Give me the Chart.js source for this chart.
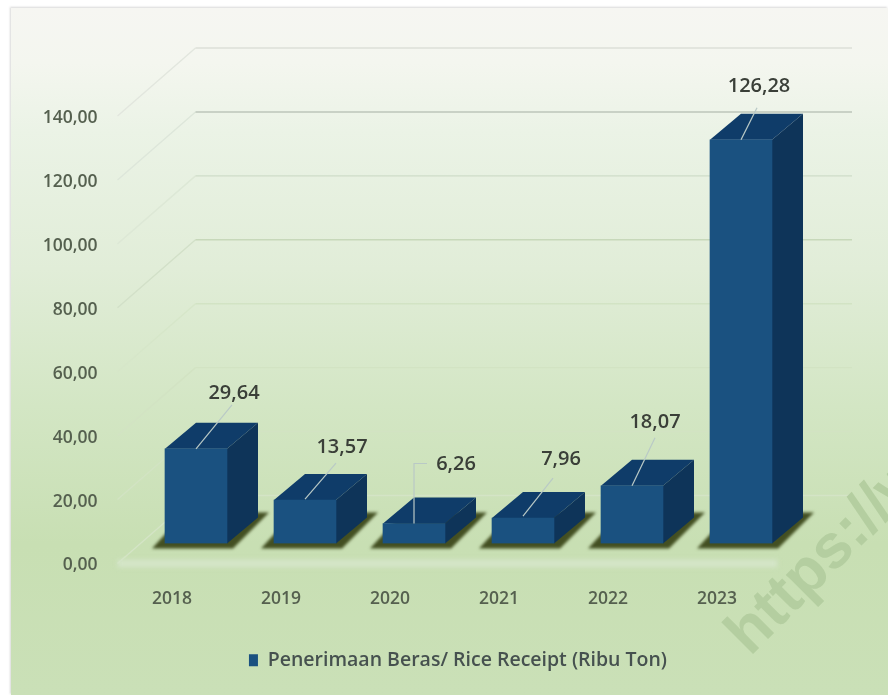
<!DOCTYPE html>
<html>
<head>
<meta charset="utf-8">
<style>
  html, body { margin: 0; padding: 0; background: #fff; }
  #panel {
    position: absolute; left: 11px; top: 8px; width: 877px; height: 687px;
    background: linear-gradient(to bottom, #f6f6f2 0%, #f4f6ef 8%, #ebf3e6 18%, #e1edd8 38%, #d3e6c4 58%, #c8dfb3 78%, #cae0b7 100%);
    box-shadow: -1px -1px 2px #d8d8d8;
  }
  #wrap { position: absolute; left: 0; top: 0; width: 888px; height: 695px; }
  canvas { filter: blur(0.7px); }
</style>
</head>
<body>
<div id="panel"></div>
<div id="wrap"><canvas id="riceChart" width="888" height="695"></canvas></div>
<script src="https://cdn.jsdelivr.net/npm/chart.js@4"></script>
<script>
const years = ['2018', '2019', '2020', '2021', '2022', '2023'];
const riceReceipt = [29.64, 13.57, 6.26, 7.96, 18.07, 126.28];
const seriesName = 'Penerimaan Beras/ Rice Receipt (Ribu Ton)';
const watermark = 'https://w';

// label centre and leader path, relative to the top centre of each bar
const labelOffsets = [[38, -55], [37, -53], [42, -59], [38, -59], [23, -63], [18, -54]];
const leaderPaths = [
    [[0, 0], [36, -44]],
    [[0, -1], [31, -37]],
    [[0, 0], [0, -60], [13, -60]],
    [[0, -2], [30, -40]],
    [[0, 0], [23, -48]],
    [[0, 0], [16, -32]]
];

// 3d look: bars sit this far from the axis origin, walls are further back
const barShift = { x: 24, y: -22 };
const depth = { x: 31, y: -26 };
const wallShift = { x: 78, y: -70 };
const wallRight = 852;
const gridColors = ['#d4e4c6', '#d2e3c3', '#d2e3c3', '#d2e3c4', '#c7d8ba', '#cfdcc8', '#bcc6ba', '#dcdfd8'];
const diagonalColors = ['#d4e4c6', '#d2e3c3', '#d2e3c3', '#d6e6c9', '#d2e0c8', '#dde8d6', '#dde6da', '#e2e6de'];

function fmt(v, d) {
    return v.toFixed(d).replace('.', ',');
}

function poly(ctx, pts, fill) {
    ctx.beginPath();
    pts.forEach((p, i) => (i ? ctx.lineTo(p[0], p[1]) : ctx.moveTo(p[0], p[1])));
    ctx.closePath();
    ctx.fillStyle = fill;
    ctx.fill();
}

const bar3d = {
    id: 'bar3d',
    afterLayout(chart) {
        // legend is centred on the whole panel, not on the plot
        chart.legend.left = 28;
        chart.legend.right = 888;
    },
    beforeDatasetsDraw(chart) {
        const ctx = chart.ctx;
        const y = chart.scales.y;
        const left = chart.chartArea.left;

        // wall grid lines with the diagonal going back from the axis
        ctx.save();
        ctx.lineWidth = 1.4;
        y.ticks.forEach((t, i) => {
            const py = y.getPixelForValue(t.value) - 2;
            ctx.beginPath();
            ctx.moveTo(left, py);
            ctx.lineTo(left + wallShift.x, py + wallShift.y + 2);
            ctx.strokeStyle = diagonalColors[i];
            ctx.stroke();
            ctx.beginPath();
            ctx.moveTo(left + wallShift.x, py + wallShift.y + 2);
            ctx.lineTo(wallRight, py + wallShift.y + 2);
            ctx.strokeStyle = gridColors[i];
            ctx.stroke();
        });
        // pale floor edge
        const y0 = y.getPixelForValue(0) - 2;
        ctx.filter = 'blur(2px)';
        ctx.fillStyle = '#d4e5c8';
        ctx.fillRect(left, y0 - 4, 660, 8);
        ctx.restore();

        ctx.save();
        ctx.translate(barShift.x, barShift.y);
        chart.getDatasetMeta(0).data.forEach((bar) => {
            const { x, y: top, base, width } = bar.getProps(['x', 'y', 'base', 'width'], true);
            const l = x - width / 2;
            const r = x + width / 2;
            // floor shadow
            ctx.save();
            ctx.filter = 'blur(1.5px)';
            poly(ctx, [[l - 13, base + 5], [r + 6, base + 5], [r + 42, base - 31], [l + 20, base - 31]], '#434f22');
            ctx.restore();
            // top and side faces
            poly(ctx, [[l, top], [l + depth.x, top + depth.y], [r + depth.x, top + depth.y], [r, top]], '#0f3c69');
            poly(ctx, [[r, top], [r + depth.x, top + depth.y], [r + depth.x, base + depth.y], [r, base]], '#0e3459');
        });
    },
    afterDatasetsDraw(chart) {
        const ctx = chart.ctx;
        chart.getDatasetMeta(0).data.forEach((bar, i) => {
            const { x, y: top } = bar.getProps(['x', 'y'], true);
            ctx.beginPath();
            leaderPaths[i].forEach((p, k) => {
                if (k) ctx.lineTo(x + p[0], top + p[1]);
                else ctx.moveTo(x + p[0], top + p[1]);
            });
            ctx.strokeStyle = '#b9c9c6';
            ctx.lineWidth = 1.2;
            ctx.stroke();

            ctx.fillStyle = '#3a3f38';
            ctx.font = '600 20px "Open Sans"';
            ctx.textAlign = 'center';
            ctx.textBaseline = 'middle';
            ctx.fillText(fmt(riceReceipt[i], 2), x + labelOffsets[i][0], top + labelOffsets[i][1]);
        });
        ctx.restore();
    },
    afterDraw(chart) {
        // site watermark running off the right edge
        const ctx = chart.ctx;
        ctx.save();
        ctx.translate(750, 657);
        ctx.rotate(-Math.PI / 4);
        ctx.font = 'bold 62px "Liberation Sans"';
        ctx.textAlign = 'left';
        ctx.textBaseline = 'alphabetic';
        ctx.fillStyle = '#b4cea0';
        ctx.fillText(watermark, 0, 0);
        ctx.restore();
    }
};

new Chart(document.getElementById('riceChart').getContext('2d'), {
    type: 'bar',
    data: {
        labels: years,
        datasets: [{
            label: seriesName,
            data: riceReceipt,
            backgroundColor: '#1a5180',
            borderWidth: 0,
            barThickness: 62
        }]
    },
    options: {
        responsive: false,
        animation: false,
        layout: { padding: { top: 118, right: 116.5, bottom: 15, left: 0 } },
        scales: {
            x: {
                grid: { display: false },
                border: { display: false },
                afterFit(scale) { scale.height = 77; },
                ticks: { color: '#55604f', font: { family: 'Open Sans', size: 17.5, weight: '600' }, padding: 15, maxRotation: 0 }
            },
            y: {
                min: 0,
                max: 140,
                grid: { display: false },
                border: { display: false },
                afterFit(scale) { scale.width = 117.5; },
                ticks: {
                    stepSize: 20,
                    color: '#55604f',
                    font: { family: 'Open Sans', size: 17.5, weight: '600' },
                    padding: 12,
                    callback: (v) => fmt(v, 2)
                }
            }
        },
        plugins: {
            legend: {
                position: 'bottom',
                labels: {
                    color: '#46514f',
                    boxWidth: 9,
                    boxHeight: 12,
                    padding: 8,
                    font: { family: 'Open Sans', size: 19.5, weight: '600' }
                }
            },
            tooltip: { enabled: false }
        }
    },
    plugins: [bar3d]
});
</script>
</body>
</html>
